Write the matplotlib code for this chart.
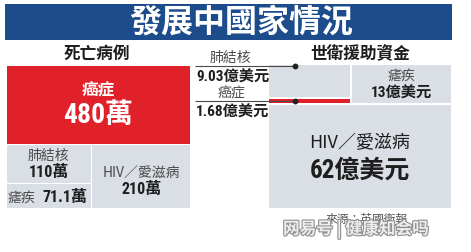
import matplotlib
matplotlib.use("Agg")
import matplotlib.pyplot as plt
from matplotlib.patches import Rectangle
import matplotlib.patheffects as pe

# Deaths per year in developing countries (萬人)
death_diseases = ["癌症", "HIV／愛滋病", "肺結核", "瘧疾"]
death_values = [480, 210, 110, 71.1]

# WHO aid funding (億美元)
fund_diseases = ["HIV／愛滋病", "瘧疾", "肺結核", "癌症"]
fund_values = [62, 13, 9.03, 1.68]

title = "發展中國家情況"
death_title = "死亡病例"
fund_title = "世衛援助資金"
source = "來源：英國衛報"
watermark = "网易号 | 健康知会吗"

BLUE = "#1c4c8c"
RED = "#e1212a"
GRAY = "#dadee5"
DARK = "#1e1e1e"
MID = "#4a4a4a"

CJK = ["Noto Sans CJK TC", "DejaVu Sans"]
NUM = ["Roboto Condensed", "Noto Sans CJK TC", "DejaVu Sans"]

fig = plt.figure(figsize=(4.71, 2.53), dpi=100)
ax = fig.add_axes([0, 0, 1, 1])
ax.set_xlim(0, 471)
ax.set_ylim(253, 0)
ax.axis("off")

GAP = 1.6


def cell(x, y, w, h, color):
    ax.add_patch(Rectangle((x + GAP / 2, y + GAP / 2), w - GAP, h - GAP,
                           facecolor=color, edgecolor="none"))


def fmt(v):
    return f"{v:g}"


def num(x, y, s, size, color=DARK, ha="center"):
    ax.text(x, y, s, family=NUM, fontsize=size, fontweight="bold",
            fontstretch="condensed", color=color, ha=ha, va="center")


# title bar
ax.add_patch(Rectangle((5, 5), 447, 36, facecolor=BLUE, edgecolor="none"))
ax.text(241, 23, title, family=CJK, fontsize=23, fontweight="bold",
        color="white", ha="center", va="center")

ax.text(97, 54, death_title, family=CJK, fontsize=12, fontweight="bold",
        color=DARK, ha="center", va="center")
ax.text(360, 54, fund_title, family=CJK, fontsize=12, fontweight="bold",
        color=DARK, ha="center", va="center")

# ---- deaths treemap (slice and dice) ----
dx, dy, dw, dh = 6, 66, 185, 144
d = dict(zip(death_diseases, death_values))
dtot = sum(death_values)
top_h = dh * d["癌症"] / dtot
cell(dx, dy, dw, top_h, RED)
cx, cy = dx + dw / 2, dy + top_h / 2
ax.text(cx, cy - 16, "癌症", family=CJK, fontsize=12, fontweight="bold",
        color="white", ha="center", va="center")
num(cx, cy + 10, fmt(d["癌症"]) + "萬", 20, color="white")

by = dy + top_h
bh = dh - top_h
rest = d["HIV／愛滋病"] + d["肺結核"] + d["瘧疾"]
hiv_w = dw * d["HIV／愛滋病"] / rest
col_w = dw - hiv_w
cell(dx + col_w, by, hiv_w, bh, GRAY)
hx, hy = dx + col_w + hiv_w / 2, by + bh / 2
ax.text(hx, hy - 5, "HIV／愛滋病", family=CJK, fontsize=10, color=MID,
        ha="center", va="center")
num(hx, hy + 12, fmt(d["HIV／愛滋病"]) + "萬", 11.5)

tb_h = bh * d["肺結核"] / (d["肺結核"] + d["瘧疾"])
cell(dx, by, col_w, tb_h, GRAY)
tx, ty = dx + col_w / 2, by + tb_h / 2
ax.text(tx, ty - 9, "肺結核", family=CJK, fontsize=10, color=MID,
        ha="center", va="center")
num(tx, ty + 8, fmt(d["肺結核"]) + "萬", 11.5)

cell(dx, by + tb_h, col_w, bh - tb_h, GRAY)
my = by + tb_h + (bh - tb_h) / 2
ax.text(dx + 2, my, "瘧疾", family=CJK, fontsize=10, color=MID,
        ha="left", va="center")
num(dx + col_w - 4, my, fmt(d["瘧疾"]) + "萬", 11.5, ha="right")

# ---- funding treemap ----
fx, fy, fw, fh = 268, 65, 184, 145
f = dict(zip(fund_diseases, fund_values))
ftot = sum(fund_values)
hiv_h = fh * f["HIV／愛滋病"] / ftot
row_h = fh - hiv_h
cell(fx, fy + row_h, fw, hiv_h, GRAY)
hx, hy = fx + fw / 2, fy + row_h + hiv_h / 2
ax.text(hx, hy - 14, "HIV／愛滋病", family=CJK, fontsize=13,
        fontweight="medium", color=DARK, ha="center", va="center")
num(hx, hy + 13, fmt(f["HIV／愛滋病"]) + "億美元", 18)

small = f["肺結核"] + f["癌症"]
left_w = fw * small / (small + f["瘧疾"])
cell(fx + left_w, fy, fw - left_w, row_h, GRAY)
mx, my = fx + left_w + (fw - left_w) / 2, fy + row_h / 2
ax.text(mx, my - 9.5, "瘧疾", family=CJK, fontsize=10, color=MID,
        ha="center", va="center")
num(mx, my + 8.5, fmt(f["瘧疾"]) + "億美元", 11)

tb_h = row_h * f["肺結核"] / small
cell(fx, fy, left_w, tb_h, GRAY)
cell(fx, fy + tb_h, left_w, row_h - tb_h, RED)

# leader labels for the two small funding cells
lx0, lx1 = 195, fx + 27
for name, yline in (("肺結核", fy + 1.5),
                    ("癌症", fy + tb_h + (row_h - tb_h) / 2)):
    ax.plot([lx0, lx1], [yline, yline], color=MID, lw=0.8,
            solid_capstyle="butt")
    ax.plot([lx1], [yline], "o", ms=3.2, color="#222222")
    ax.text(231, yline - 8.5, name, family=CJK, fontsize=10, color=MID,
            ha="center", va="center")
    num(lx0 + 1, yline + 10.5, fmt(f[name]) + "億美元", 11, ha="left")

# source line, with the publisher watermark laid over it
ax.text(326, 219, source, family=CJK, fontsize=8.5, color="#555555",
        ha="left", va="center")
ax.text(283, 230, watermark, family=["Noto Sans CJK SC", "DejaVu Sans"],
        fontsize=12, fontweight="bold", color="#eeeeee", ha="left",
        va="center",
        path_effects=[pe.withStroke(linewidth=1.6, foreground="#8f8f8f")])

fig.savefig("out.png", dpi=100, facecolor="white")
